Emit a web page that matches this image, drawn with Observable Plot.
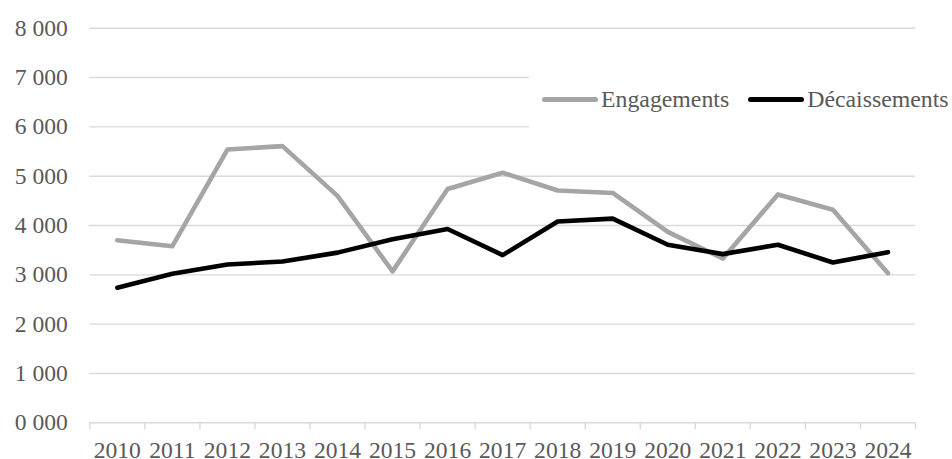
<!DOCTYPE html>
<html>
<head>
<meta charset="utf-8">
<script src="https://cdn.jsdelivr.net/npm/d3@7"></script>
<script src="https://cdn.jsdelivr.net/npm/@observablehq/plot@0.6"></script>
<style>
  html, body { margin: 0; padding: 0; background: #fff; }
  #wrap { position: relative; width: 952px; height: 459px; font-family: "Liberation Serif", serif; }
  #wrap svg text { font-family: "Liberation Serif", serif !important; font-size: 23.6px; font-variant: normal; }
  #legend { position: absolute; left: 529px; top: 66px; width: 423px; height: 66px; background: #fff;
            display: flex; align-items: center; font-size: 23.8px; color: #595959; white-space: nowrap;
            font-family: "Liberation Serif", serif; }
  .item { display: flex; align-items: center; }
  .sw { display: inline-block; width: 56px; height: 5px; border-radius: 3px; margin-right: 3px; }
</style>
</head>
<body>
<div id="wrap"></div>
<script>
const years = [2010, 2011, 2012, 2013, 2014, 2015, 2016, 2017, 2018, 2019, 2020, 2021, 2022, 2023, 2024];
const engagements = [3700, 3580, 5540, 5610, 4600, 3070, 4740, 5070, 4710, 4660, 3870, 3330, 4630, 4320, 3030];
const decaissements = [2740, 3020, 3210, 3270, 3450, 3720, 3930, 3400, 4080, 4140, 3610, 3420, 3610, 3250, 3460];
const yTicks = [0, 1000, 2000, 3000, 4000, 5000, 6000, 7000, 8000];
const seriesNames = ["Engagements", "Décaissements"];
const seriesColors = ["#A5A5A5", "#000000"];

const boundaries = [...years.map(y => y - 0.5), years[years.length - 1] + 0.5];
const fmt = d => `${Math.floor(d / 1000)} ${String(d % 1000).padStart(3, "0")}`;

const eng = years.map((y, i) => ({year: y, value: engagements[i]}));
const dec = years.map((y, i) => ({year: y, value: decaissements[i]}));

const chart = Plot.plot({
  width: 952,
  height: 459,
  marginLeft: 89.3,
  marginRight: 37,
  marginTop: 27.7,
  marginBottom: 36.7,
  style: {fontFamily: "Liberation Serif, serif", fontSize: "23.6px", color: "#595959", background: "#fff"},
  x: {type: "linear", domain: [boundaries[0], boundaries[boundaries.length - 1]]},
  y: {domain: [0, 8000]},
  marks: [
    Plot.ruleY(yTicks, {stroke: "#D9D9D9", strokeWidth: 1.4}),
    Plot.axisY({ticks: yTicks, tickFormat: fmt, tickSize: 0, tickPadding: 22, label: null, fill: "#595959"}),
    Plot.axisX({ticks: boundaries, tickFormat: () => "", tickSize: 7, stroke: "#D9D9D9", strokeWidth: 1.4, label: null}),
    Plot.axisX({ticks: years, tickFormat: d => String(d), tickSize: 0, tickPadding: 18, label: null, fill: "#595959"}),
    Plot.line(eng, {x: "year", y: "value", stroke: seriesColors[0], strokeWidth: 4.6, strokeLinejoin: "round", strokeLinecap: "round"}),
    Plot.line(dec, {x: "year", y: "value", stroke: seriesColors[1], strokeWidth: 4.6, strokeLinejoin: "round", strokeLinecap: "round"})
  ]
});

const wrap = document.getElementById("wrap");
wrap.appendChild(chart);

const legend = document.createElement("div");
legend.id = "legend";
seriesNames.forEach((name, i) => {
  const item = document.createElement("span");
  item.className = "item";
  item.style.marginLeft = i === 0 ? "13px" : "19px";
  const sw = document.createElement("span");
  sw.className = "sw";
  sw.style.background = seriesColors[i];
  item.appendChild(sw);
  item.appendChild(document.createTextNode(name));
  legend.appendChild(item);
});
wrap.appendChild(legend);
</script>
</body>
</html>
